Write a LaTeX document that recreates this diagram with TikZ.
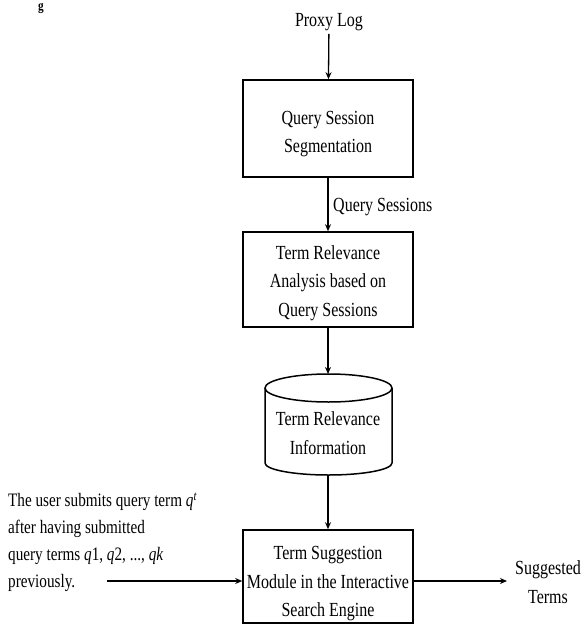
\documentclass[tikz,border=0pt]{standalone}
\usepackage{fontspec}
\setmainfont{Liberation Serif}[FakeStretch=0.8]
\usetikzlibrary{arrows.meta}
\begin{document}
\begin{tikzpicture}[x=1pt,y=-1pt,
  box/.style={draw, line width=1.6pt, minimum width=170pt, inner sep=0pt},
  txt/.style={font=\fontsize{20}{28.5}\selectfont, align=center, inner sep=0pt},
  arr/.style={line width=1.3pt, -{Stealth[length=7pt,width=6pt]}},
  db/.style={line width=1.5pt}]
\clip (0,0) rectangle (584,628);
\fill[white] (0,0) rectangle (584,628);
% caption fragment
\node[anchor=north, font=\fontsize{14}{16}\bfseries, inner sep=1pt] (frag) at (41,2) {g};
% Proxy Log
\node[txt, inner sep=3pt] (proxy) at (329,22) {Proxy Log};
% Box 1
\node[box, minimum height=97pt] (box1) at (328,128.5) {};
\node[txt] (t1) at (328,134) {Query Session\\Segmentation};
% Box 2
\node[box, minimum height=95pt] (box2) at (328,279.5) {};
\node[txt] (t2) at (328,283) {Term Relevance\\Analysis based on\\Query Sessions};
\node[txt, anchor=west] (qs) at (333,207) {Query Sessions};
% Database cylinder
\draw[db, fill=white] (265,388) -- (265,463) arc[start angle=180, end angle=0, x radius=63.5, y radius=12] -- (392,388);
\draw[db] (328.5,388) ellipse[x radius=63.5, y radius=14];
\coordinate (cyltop) at (328,374);
\coordinate (cylbot) at (328,475);
\node[txt] (t3) at (328,433) {Term Relevance\\Information};
% Box 3
\node[box, minimum height=93pt] (box3) at (328,576.5) {};
\node[txt] (t4) at (328,584) {Term Suggestion\\Module in the Interactive\\Search Engine};
% left text
\node[txt, align=left, anchor=west, font=\fontsize{19}{27}\selectfont] (lt) at (8,542) {The user submits query term \textit{q}\textsuperscript{\itshape t}\\after having submitted\\query terms \textit{q}1, \textit{q}2, ..., \textit{qk}\\previously.};
\coordinate (inl) at (107,581);
\coordinate (outr) at (507,581);
\node[txt] (sug) at (548,582) {Suggested\\Terms};
% connectors
\draw[arr] (proxy) -- (box1);
\draw[arr] (box1) -- (box2);
\draw[arr] (box2) -- (cyltop);
\draw[arr] (cylbot) -- (box3);
\draw[arr] (inl) -- (inl -| box3.west);
\draw[arr] (inl -| box3.east) -- (outr);
\end{tikzpicture}
\end{document}
